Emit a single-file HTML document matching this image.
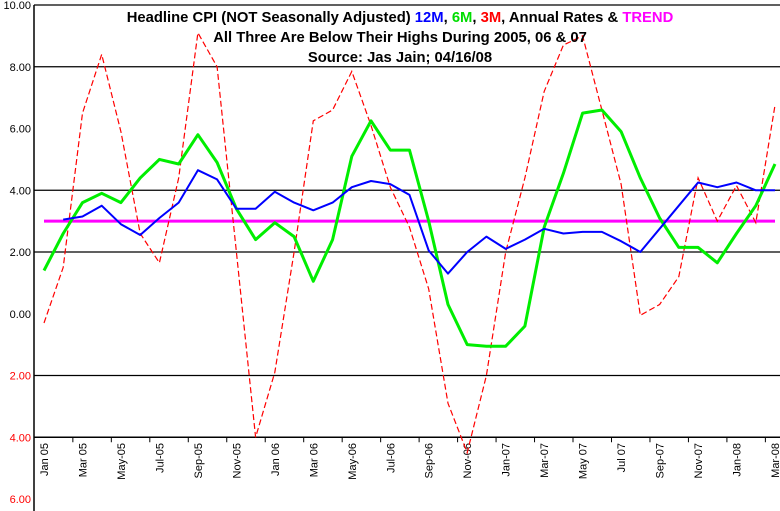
<!DOCTYPE html>
<html><head><meta charset="utf-8">
<style>
html,body{margin:0;padding:0;background:#fff;width:780px;height:511px;overflow:hidden}
svg{display:block;font-family:"Liberation Sans",Arial,sans-serif}
</style></head>
<body>
<svg id="chart" width="780" height="511" viewBox="0 0 780 511">
<g id="grid"></g>
<g id="yaxis"></g>
<g id="xaxis"></g>
<g id="series"></g>
<g font-weight="bold" font-size="14.8" text-anchor="middle">
<text x="400" y="22"><tspan fill="#000">Headline CPI (NOT Seasonally Adjusted) </tspan><tspan fill="#0000ff">12M</tspan><tspan fill="#000">, </tspan><tspan fill="#00dd00">6M</tspan><tspan fill="#000">, </tspan><tspan fill="#ff0000">3M</tspan><tspan fill="#000">, Annual Rates &amp; </tspan><tspan fill="#ff00ff">TREND</tspan></text>
<text x="400" y="42">All Three Are Below Their Highs During 2005, 06 &amp; 07</text>
<text x="400" y="62">Source: Jas Jain; 04/16/08</text>
</g>
</svg>
<script>
const categories = ["Jan 05","Feb 05","Mar 05","Apr 05","May-05","Jun 05","Jul-05","Aug 05","Sep-05","Oct 05","Nov-05","Dec 05","Jan 06","Feb 06","Mar 06","Apr 06","May-06","Jun 06","Jul-06","Aug 06","Sep-06","Oct 06","Nov-06","Dec 06","Jan-07","Feb 07","Mar-07","Apr 07","May 07","Jun 07","Jul 07","Aug 07","Sep-07","Oct 07","Nov-07","Dec 07","Jan-08","Feb 08","Mar-08"];
const series12M = [null,3.05,3.15,3.5,2.9,2.55,3.1,3.6,4.65,4.35,3.4,3.4,3.95,3.6,3.35,3.6,4.1,4.3,4.2,3.85,2.05,1.3,2.0,2.5,2.1,2.4,2.75,2.6,2.65,2.65,2.35,2.0,2.75,3.5,4.25,4.1,4.25,4.0,4.0];
const series6M = [1.4,2.6,3.6,3.9,3.6,4.4,5.0,4.85,5.8,4.9,3.4,2.4,2.95,2.5,1.05,2.4,5.1,6.25,5.3,5.3,3.0,0.3,-1.0,-1.05,-1.05,-0.4,2.8,4.55,6.5,6.6,5.9,4.4,3.1,2.15,2.15,1.65,2.6,3.5,4.85];
const series3M = [-0.3,1.5,6.5,8.4,5.9,2.6,1.65,4.4,9.1,8.0,2.0,-4.0,-1.9,2.0,6.25,6.6,7.85,6.1,4.1,2.8,0.8,-2.9,-4.5,-2.0,2.0,4.4,7.2,8.7,9.0,6.6,4.2,-0.05,0.3,1.2,4.4,3.0,4.15,2.95,6.75];
const trendValue = [3.0];
const yTicks = [10,8,6,4,2,0,-2,-4,-6];
const gridValues = [10,8,4,2,-2];

const NS="http://www.w3.org/2000/svg";
const x0=44, x1=775, yTop=5, yBot=499;
function xScale(i){return x0+(x1-x0)*i/(categories.length-1);}
function yScale(v){return yTop+(10-v)*(yBot-yTop)/16;}
function mk(tag,attrs,parent){const e=document.createElementNS(NS,tag);for(const k in attrs)e.setAttribute(k,attrs[k]);parent.appendChild(e);return e;}
const grid=document.getElementById('grid'),ya=document.getElementById('yaxis'),xa=document.getElementById('xaxis'),sr=document.getElementById('series');

gridValues.forEach(v=>{
  const l=mk('line',{x1:34,x2:780,y1:yScale(v),y2:yScale(v),stroke:'#000','stroke-width':1.3},grid);
  
  
});
const axl=mk('line',{x1:34,x2:34,y1:yTop,y2:511,stroke:'#000','stroke-width':1.5},ya);


yTicks.forEach(v=>{
  const t=mk('text',{x:31,y:yScale(v)+4,'text-anchor':'end','font-size':11,fill:v<0?'#ff0000':'#000'},ya);
  t.textContent=Math.abs(v).toFixed(2);
  
  
});
const xl=mk('line',{x1:34,x2:780,y1:yScale(-4),y2:yScale(-4),stroke:'#000','stroke-width':1.5},xa);


categories.forEach((c,i)=>{
  if(i%2===1){
    const tk=mk('line',{x1:xScale(i+0.5),x2:xScale(i+0.5),y1:yScale(-4),y2:yScale(-4)+5,stroke:'#000'},xa);
    
    
  }
  if(i%2===0){
    const x=xScale(i)+4,y=443;
    const t=mk('text',{x:x,y:y,'text-anchor':'end','font-size':11,transform:`rotate(-90 ${x} ${y})`,fill:'#000'},xa);
    t.textContent=c;
    
    
  }
});
const tr=mk('line',{x1:xScale(0),x2:xScale(categories.length-1),y1:yScale(trendValue[0]),y2:yScale(trendValue[0]),stroke:'#ff00ff','stroke-width':3},sr);


function pathFor(arr){let d='';arr.forEach((v,i)=>{if(v===null)return;d+=(d?'L':'M')+xScale(i).toFixed(1)+','+yScale(v).toFixed(1);});return d;}
const p3=mk('path',{d:pathFor(series3M),fill:'none',stroke:'#ff0000','stroke-width':1.2,'stroke-dasharray':'6,3'},sr);


const p6=mk('path',{d:pathFor(series6M),fill:'none',stroke:'#00ee00','stroke-width':3,'stroke-linejoin':'round'},sr);


const p12=mk('path',{d:pathFor(series12M),fill:'none',stroke:'#0000ff','stroke-width':2,'stroke-linejoin':'round'},sr);


</script>
</body></html>
